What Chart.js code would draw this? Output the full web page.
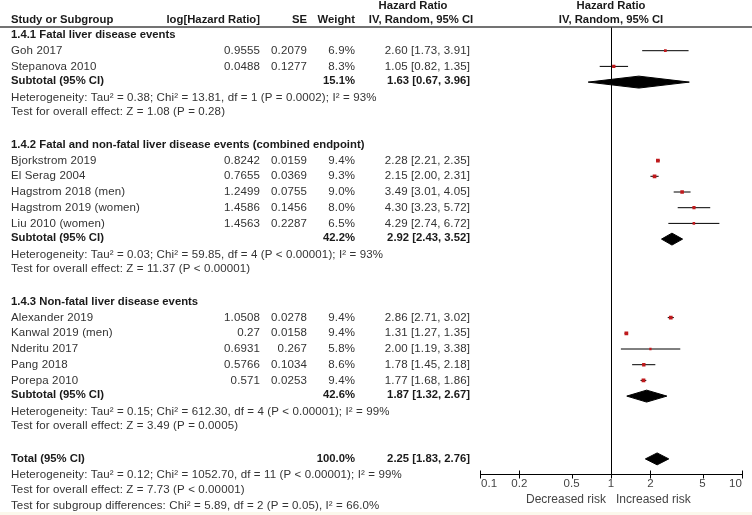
<!DOCTYPE html>
<html>
<head>
<meta charset="utf-8">
<script src="https://cdn.jsdelivr.net/npm/chart.js"></script>
<style>
  html, body { margin: 0; padding: 0; background: #fff; overflow: hidden; }
</style>
</head>
<body>
<canvas id="forest" width="752" height="515"></canvas>
<script>
// ---- data ----
const groupTitles = [
  '1.4.1 Fatal liver disease events',
  '1.4.2 Fatal and non-fatal liver disease events (combined endpoint)',
  '1.4.3 Non-fatal liver disease events'
];
const studyNames = [
  'Goh 2017', 'Stepanova 2010',
  'Bjorkstrom 2019', 'El Serag 2004', 'Hagstrom 2018 (men)', 'Hagstrom 2019 (women)', 'Liu 2010 (women)',
  'Alexander 2019', 'Kanwal 2019 (men)', 'Nderitu 2017', 'Pang 2018', 'Porepa 2010'
];
const studyGroup = [0, 0, 1, 1, 1, 1, 1, 2, 2, 2, 2, 2];
const logHR = [0.9555, 0.0488, 0.8242, 0.7655, 1.2499, 1.4586, 1.4563, 1.0508, 0.27, 0.6931, 0.5766, 0.571];
const seVals = [0.2079, 0.1277, 0.0159, 0.0369, 0.0755, 0.1456, 0.2287, 0.0278, 0.0158, 0.267, 0.1034, 0.0253];
const weights = [6.9, 8.3, 9.4, 9.3, 9.0, 8.0, 6.5, 9.4, 9.4, 5.8, 8.6, 9.4];
const hr = [2.60, 1.05, 2.28, 2.15, 3.49, 4.30, 4.29, 2.86, 1.31, 2.00, 1.78, 1.77];
const ciLow = [1.73, 0.82, 2.21, 2.00, 3.01, 3.23, 2.74, 2.71, 1.27, 1.19, 1.45, 1.68];
const ciHigh = [3.91, 1.35, 2.35, 2.31, 4.05, 5.72, 6.72, 3.02, 1.35, 3.38, 2.18, 1.86];

const subWeight = [15.1, 42.2, 42.6];
const subHR = [1.63, 2.92, 1.87];
const subLow = [0.67, 2.43, 1.32];
const subHigh = [3.96, 3.52, 2.67];
const subHet = [
  'Heterogeneity: Tau² = 0.38; Chi² = 13.81, df = 1 (P = 0.0002); I² = 93%',
  'Heterogeneity: Tau² = 0.03; Chi² = 59.85, df = 4 (P < 0.00001); I² = 93%',
  'Heterogeneity: Tau² = 0.15; Chi² = 612.30, df = 4 (P < 0.00001); I² = 99%'
];
const subEffect = [
  'Test for overall effect: Z = 1.08 (P = 0.28)',
  'Test for overall effect: Z = 11.37 (P < 0.00001)',
  'Test for overall effect: Z = 3.49 (P = 0.0005)'
];

const totalWeight = 100.0;
const totalHR = 2.25, totalLow = 1.83, totalHigh = 2.76;
const totalHet = 'Heterogeneity: Tau² = 0.12; Chi² = 1052.70, df = 11 (P < 0.00001); I² = 99%';
const totalEffect = 'Test for overall effect: Z = 7.73 (P < 0.00001)';
const subgroupDiff = 'Test for subgroup differences: Chi² = 5.89, df = 2 (P = 0.05), I² = 66.0%';

const xTicks = [0.1, 0.2, 0.5, 1, 2, 5, 10];
const xTickLabels = ['0.1', '0.2', '0.5', '1', '2', '5', '10'];

// ---- row layout (one unit = one text line) ----
const rows = [];
let r = 0;
groupTitles.forEach((t, g) => {
  rows.push({ type: 'group', r: r++, g });
  studyGroup.forEach((sg, i) => { if (sg === g) rows.push({ type: 'study', r: r++, i }); });
  rows.push({ type: 'subtotal', r: r++, g });
  rows.push({ type: 'het', r: r++, g });
  rows.push({ type: 'effect', r: r++, g });
  r++;
});
const totalRow = r;

const FONT = '"Liberation Sans", Arial, sans-serif';
const FS_BOLD = 11.3;
const FS = 11.5;
const DIAMOND_H = 0.38;
const fmt = v => v.toFixed(2);
const ciText = (e, l, h) => fmt(e) + ' [' + fmt(l) + ', ' + fmt(h) + ']';
const studyRow = i => rows.find(o => o.type === 'study' && o.i === i).r;

// ---- datasets ----
const datasets = [];
datasets.push({
  type: 'scatter',
  order: 0,
  data: hr.map((v, i) => ({ x: v, y: studyRow(i) })),
  pointStyle: 'rect',
  pointRadius: weights.map(w => w * 0.28),
  backgroundColor: '#c0191c',
  borderColor: '#c0191c',
  borderWidth: 0
});
hr.forEach((v, i) => {
  const y = studyRow(i);
  datasets.push({
    type: 'line', order: 1,
    data: [{ x: ciLow[i], y }, { x: ciHigh[i], y }],
    borderColor: '#000', borderWidth: 1, pointRadius: 0, fill: false
  });
});
const diamonds = subHR.map((v, g) => ({ e: v, l: subLow[g], h: subHigh[g], y: rows.find(o => o.type === 'subtotal' && o.g === g).r }));
diamonds.push({ e: totalHR, l: totalLow, h: totalHigh, y: totalRow });
diamonds.forEach(d => {
  datasets.push({
    type: 'line', order: 1,
    data: [
      { x: d.l, y: d.y }, { x: d.e, y: d.y - DIAMOND_H },
      { x: d.h, y: d.y }, { x: d.e, y: d.y + DIAMOND_H }, { x: d.l, y: d.y }
    ],
    borderColor: '#000', backgroundColor: '#000', borderWidth: 1,
    pointRadius: 0, fill: 'shape', tension: 0
  });
});

// ---- text, reference line and axis ----
const forestPlugin = {
  id: 'forestText',
  beforeDraw(chart) {
    const c = chart.ctx;
    c.save();
    c.fillStyle = '#fff';
    c.fillRect(0, 0, chart.width, chart.height);
    c.fillStyle = '#fbf8ec';
    c.fillRect(0, 512, chart.width, 3);
    c.restore();
  },
  beforeDatasetsDraw(chart) {
    const c = chart.ctx, xs = chart.scales.x, a = chart.chartArea;
    const x1 = Math.round(xs.getPixelForValue(1)) + 0.5;
    c.save();
    c.strokeStyle = '#000';
    c.lineWidth = 1;
    c.beginPath();
    c.moveTo(x1, a.top);
    c.lineTo(x1, a.bottom);
    c.stroke();
    c.restore();
  },
  afterDraw(chart) {
    const c = chart.ctx, xs = chart.scales.x, ys = chart.scales.y, a = chart.chartArea;
    const yp = v => ys.getPixelForValue(v);
    c.save();
    c.textBaseline = 'middle';
    const txt = (s, x, y, align, bold, color) => {
      c.font = (bold ? 'bold ' + FS_BOLD : FS) + 'px ' + FONT;
      c.letterSpacing = bold ? '0px' : '0.12px';
      c.textAlign = align;
      c.fillStyle = color || (bold ? '#1a1a1a' : '#333');
      c.fillText(s, x, y);
    };
    // header
    txt('Hazard Ratio', 413, 6, 'center', true);
    txt('Hazard Ratio', 611, 6, 'center', true);
    txt('Study or Subgroup', 11, 20, 'left', true);
    txt('log[Hazard Ratio]', 260, 20, 'right', true);
    txt('SE', 307, 20, 'right', true);
    txt('Weight', 355, 20, 'right', true);
    txt('IV, Random, 95% CI', 421, 20, 'center', true);
    txt('IV, Random, 95% CI', 611, 20, 'center', true);
    c.strokeStyle = '#444';
    c.lineWidth = 1.5;
    c.beginPath();
    c.moveTo(0, 27);
    c.lineTo(chart.width, 27);
    c.stroke();

    rows.forEach(o => {
      const y = yp(o.r);
      if (o.type === 'group') txt(groupTitles[o.g], 11, y, 'left', true);
      else if (o.type === 'study') {
        const i = o.i;
        txt(studyNames[i], 11, y, 'left');
        txt(String(logHR[i]), 260, y, 'right');
        txt(String(seVals[i]), 307, y, 'right');
        txt(weights[i].toFixed(1) + '%', 355, y, 'right');
        txt(ciText(hr[i], ciLow[i], ciHigh[i]), 470, y, 'right');
      } else if (o.type === 'subtotal') {
        const g = o.g;
        txt('Subtotal (95% CI)', 11, y - 1, 'left', true);
        txt(subWeight[g].toFixed(1) + '%', 355, y - 1, 'right', true);
        txt(ciText(subHR[g], subLow[g], subHigh[g]), 470, y - 1, 'right', true);
      } else if (o.type === 'het') txt(subHet[o.g], 11, y, 'left');
      else if (o.type === 'effect') txt(subEffect[o.g], 11, y - 1.5, 'left');
    });
    const yt = yp(totalRow);
    txt('Total (95% CI)', 11, yt, 'left', true);
    txt(totalWeight.toFixed(1) + '%', 355, yt, 'right', true);
    txt(ciText(totalHR, totalLow, totalHigh), 470, yt, 'right', true);
    txt(totalHet, 11, yp(totalRow + 1), 'left');
    txt(totalEffect, 11, yp(totalRow + 2), 'left');
    txt(subgroupDiff, 11, yp(totalRow + 3), 'left');

    // x axis
    const ya = Math.round(a.bottom) - 0.5;
    c.strokeStyle = '#000';
    c.lineWidth = 1;
    c.beginPath();
    c.moveTo(xs.getPixelForValue(xTicks[0]), ya);
    c.lineTo(xs.getPixelForValue(xTicks[xTicks.length - 1]), ya);
    xTicks.forEach((t) => {
      const x = Math.round(xs.getPixelForValue(t)) + 0.5;
      const minor = (t === 0.5 || t === 5);
      c.moveTo(x, minor ? ya : ya - 4);
      c.lineTo(x, ya + 4);
    });
    c.stroke();
    xTicks.forEach((t, k) => {
      const x = xs.getPixelForValue(t);
      const align = k === 0 ? 'left' : (k === xTicks.length - 1 ? 'right' : 'center');
      txt(xTickLabels[k], x + (k === 0 ? 1 : 0), ya + 9, align, false, '#444');
    });
    c.font = '12px ' + FONT;
    c.letterSpacing = '0px';
    c.fillStyle = '#444';
    c.textAlign = 'right';
    c.fillText('Decreased risk', xs.getPixelForValue(1) - 5, ya + 25);
    c.textAlign = 'left';
    c.fillText('Increased risk', xs.getPixelForValue(1) + 5, ya + 25);
    c.restore();
  }
};

new Chart(document.getElementById('forest'), {
  type: 'scatter',
  data: { datasets },
  options: {
    responsive: false,
    animation: false,
    events: [],
    layout: { padding: { top: 27.15, bottom: 40.4, left: 480, right: 10 } },
    scales: {
      x: { type: 'logarithmic', min: 0.1, max: 10, display: false },
      y: { type: 'linear', min: -0.5, max: 28, reverse: true, display: false }
    },
    plugins: { legend: { display: false }, tooltip: { enabled: false } }
  },
  plugins: [forestPlugin]
});
</script>
</body>
</html>
